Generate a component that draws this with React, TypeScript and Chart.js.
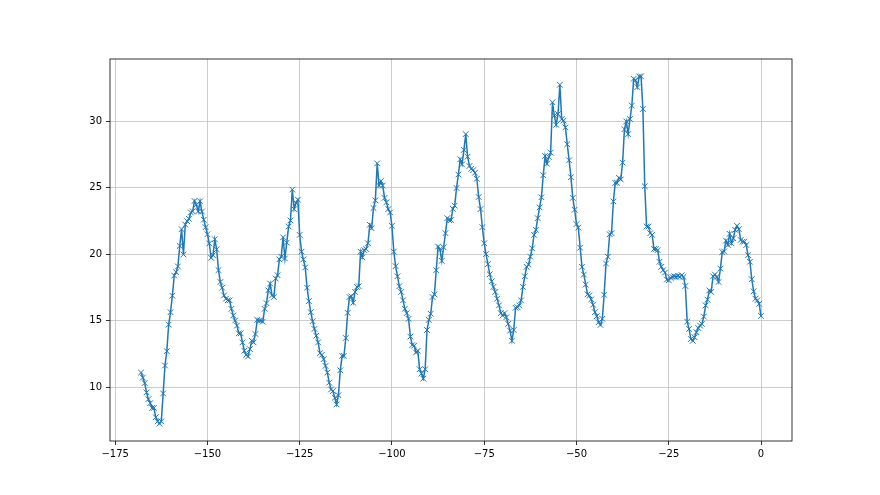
import React, { useEffect, useRef } from 'react';
import { Chart, registerables } from 'chart.js';

Chart.register(...registerables);

// Sampling grid: hours relative to now, every half hour
const xStart = -168;
const xStep = 0.5;

const temps = [
  11.09, 10.71, 10.30, 9.60, 9.09, 8.79, 8.43, 8.43, 7.73, 7.42,
  7.25, 7.42, 9.52, 11.62, 12.70, 14.70, 15.63, 16.87, 18.38, 18.64,
  19.07, 20.61, 21.87, 19.97, 22.22, 22.47, 22.65, 23.13, 23.21, 23.99,
  23.71, 23.21, 23.97, 23.20, 22.58, 22.02, 21.49, 20.80, 19.72, 19.92,
  21.11, 20.35, 18.79, 17.90, 17.47, 16.89, 16.64, 16.52, 16.52, 15.88,
  15.38, 15.00, 14.62, 14.04, 14.04, 13.36, 12.73, 12.42, 12.30, 12.85,
  13.48, 13.36, 13.99, 15.05, 15.00, 15.00, 14.92, 15.88, 16.31, 17.27,
  17.78, 16.89, 16.77, 18.16, 18.41, 19.60, 19.80, 21.26, 19.67, 20.86,
  22.07, 22.53, 24.85, 23.38,
  23.84, 24.09, 21.44, 20.18, 19.60, 18.99, 17.47, 16.46, 15.63, 14.95,
  14.37, 13.86, 13.36, 12.55, 12.42, 12.10, 11.59, 11.09, 10.33, 9.82,
  9.70, 9.19, 8.69, 9.39, 11.26, 12.35, 12.35, 13.69, 15.58, 16.77,
  16.82, 16.34, 17.15, 17.53, 17.58, 20.18, 19.75, 20.30, 20.38, 20.81,
  22.20, 21.94, 23.46,
  24.04, 26.82, 25.15, 25.48, 25.15, 24.22, 23.89, 23.38, 23.13, 22.12,
  20.18, 19.09, 18.33, 17.58, 17.15, 16.52, 15.88, 15.56, 15.13, 13.79,
  13.16, 13.11, 12.60, 12.73, 11.34, 11.01, 10.63, 11.34, 14.29, 15.05,
  15.51, 16.77, 16.97, 18.79, 20.56, 20.35, 19.49, 20.51, 21.57, 22.70,
  22.55, 22.55, 23.40,
  23.64, 24.97, 25.98, 27.12, 26.74, 27.83, 29.02, 27.32, 26.62, 26.41,
  26.31, 26.11, 25.66, 24.29, 23.38, 22.02, 20.81, 20.00, 19.24, 18.48,
  17.95, 17.53, 17.15, 16.64, 16.14, 15.56, 15.38, 15.56, 15.25, 14.75,
  14.24, 13.48, 14.29, 15.96, 16.01, 16.14, 16.52, 17.53, 18.33, 19.04,
  19.20, 19.80, 20.43,
  21.44, 21.82, 22.70, 23.51, 24.27, 25.93, 27.37, 26.79, 27.30, 27.63,
  31.41, 30.40, 29.72, 30.53, 32.73, 30.15, 30.03, 29.52, 28.26, 27.05,
  25.78, 24.22, 23.33, 22.25, 21.99, 20.48, 19.04, 18.46, 17.70, 16.97,
  16.89, 16.59, 16.19, 15.63, 15.33, 14.87, 14.67, 15.13, 16.94, 19.29,
  19.80, 21.49, 21.57, 23.96,
  25.35, 25.35, 25.73, 25.61, 26.87, 29.39, 29.97, 29.02, 30.15, 31.16,
  33.18, 33.06, 32.55, 33.36, 33.36, 30.91, 25.10, 22.07, 22.07, 21.57,
  21.44, 20.38, 20.38, 20.30, 19.42, 19.04, 18.79, 18.61, 18.08, 18.03,
  18.21, 18.28, 18.33, 18.30, 18.36, 18.28, 18.41, 18.28, 17.60,
  14.92, 14.37, 13.61, 13.48, 13.74, 14.12, 14.44, 14.62, 14.75, 15.30,
  16.14, 16.57, 17.27, 17.15, 18.33, 18.46, 18.28, 17.90, 18.91, 20.15,
  20.20, 21.01, 20.68, 21.52, 20.81, 21.19, 21.82, 22.12, 21.87, 21.06,
  20.93, 20.93, 20.68, 19.92, 19.42, 18.11, 17.20, 16.64, 16.52, 16.26,
  15.35,
];

const xTicks = [-175, -150, -125, -100, -75, -50, -25, 0];
const yTicks = [10, 15, 20, 25, 30];

const fmt = (v: number) => (v < 0 ? '\u2212' + Math.abs(v) : String(v));

const frame = {
  id: 'frame',
  afterDraw(chart: any) {
    const { ctx, chartArea } = chart;
    const { left, top, right, bottom } = chartArea;
    ctx.save();
    ctx.strokeStyle = '#000';
    ctx.lineWidth = 0.8;
    ctx.strokeRect(left, top, right - left, bottom - top);
    ctx.restore();
  },
};

export default function App() {
  const ref = useRef<HTMLCanvasElement | null>(null);

  useEffect(() => {
    if (!ref.current) return;
    const pts = temps.map((y, i) => ({ x: xStart + i * xStep, y }));
    const xs = pts.map((p) => p.x);
    const xMin = Math.min(...xs);
    const xMax = Math.max(...xs);
    const yMin = Math.min(...temps);
    const yMax = Math.max(...temps);
    const xm = (xMax - xMin) * 0.05;
    const ym = (yMax - yMin) * 0.05;
    const font = { family: 'DejaVu Sans', size: 10 };
    const grid = {
      color: '#c0c0c0',
      lineWidth: 0.8,
      tickColor: '#000',
      tickLength: 4,
      drawTicks: true,
    };
    const chart = new Chart(ref.current, {
      type: 'line',
      data: {
        datasets: [
          {
            data: pts,
            borderColor: '#1f77b4',
            backgroundColor: '#1f77b4',
            borderWidth: 1.5,
            pointStyle: 'crossRot',
            pointRadius: 4,
            pointBorderColor: '#1f77b4',
            pointBorderWidth: 1,
            tension: 0,
            fill: false,
          },
        ],
      },
      options: {
        animation: false,
        responsive: false,
        devicePixelRatio: 1,
        layout: { padding: { left: 0, top: 59, right: 88, bottom: 0 } },
        plugins: { legend: { display: false }, tooltip: { enabled: false } },
        scales: {
          x: {
            type: 'linear',
            min: xMin - xm,
            max: xMax + xm,
            afterBuildTicks: (s: any) => {
              s.ticks = xTicks.map((v) => ({ value: v }));
            },
            afterFit: (s: any) => {
              s.height = 54;
            },
            ticks: {
              callback: (v: any) => fmt(Number(v)),
              color: '#000',
              font,
              maxRotation: 0,
              minRotation: 0,
              autoSkip: false,
              padding: 3,
            },
            grid,
            border: { display: false },
          },
          y: {
            type: 'linear',
            min: yMin - ym,
            max: yMax + ym,
            afterBuildTicks: (s: any) => {
              s.ticks = yTicks.map((v) => ({ value: v }));
            },
            afterFit: (s: any) => {
              s.width = 110;
            },
            ticks: {
              callback: (v: any) => fmt(Number(v)),
              color: '#000',
              font,
              autoSkip: false,
              padding: 4,
            },
            grid,
            border: { display: false },
          },
        },
      },
      plugins: [frame],
    });
    return () => chart.destroy();
  }, []);

  return (
    <div style={{ position: 'absolute', left: 0, top: 0, width: 880, height: 495, background: '#fff' }}>
      <canvas ref={ref} width={880} height={495} />
    </div>
  );
}
